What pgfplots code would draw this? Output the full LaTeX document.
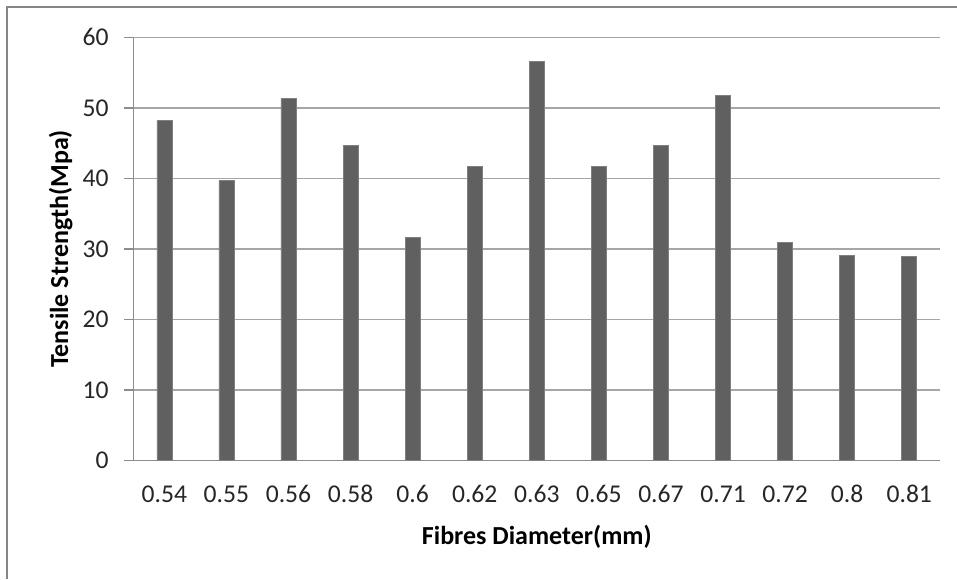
\documentclass[border=0pt]{standalone}
\usepackage{fontspec}
\setmainfont{Carlito}
\usepackage{pgfplots}
\pgfplotsset{compat=1.18}
\definecolor{barc}{HTML}{606060}
\definecolor{gridc}{HTML}{A6A6A6}
\definecolor{axc}{HTML}{8C8C8C}
\definecolor{brd}{HTML}{868686}
\begin{document}
\begin{tikzpicture}
\useasboundingbox (0,0) rectangle (478.5pt,289.5pt);
\draw[brd, line width=1pt] (3.5pt,0) -- (3.5pt,286pt) -- (478.5pt,286pt);
\begin{axis}[
  at={(66.65pt,59.15pt)}, anchor=south west,
  scale only axis, width=403.5pt, height=211.7pt,
  xmin=-0.5, xmax=12.5, ymin=0, ymax=60,
  axis x line*=bottom, axis y line*=left,
  axis line style={axc, line width=0.7pt},
  xtick=data,
  xticklabels={0.54,0.55,0.56,0.58,0.6,0.62,0.63,0.65,0.67,0.71,0.72,0.8,0.81},
  ytick={0,10,20,30,40,50,60},
  ymajorgrids, major grid style={gridc, line width=0.7pt},
  x tick style={draw=none},
  y tick style={axc, line width=0.7pt},
  tick align=outside, major tick length=4.5pt,
  /pgf/number format/assume math mode=true,
  ticklabel style={font=\fontsize{12.8}{14}\selectfont, text=black!85},
  yticklabel style={anchor=east, inner sep=0pt, xshift=-7.65pt},
  xticklabel style={anchor=base, inner sep=0pt, yshift=-16.5pt},
  xlabel={Fibres Diameter(mm)},
  ylabel={Tensile Strength(Mpa)},
  label style={font=\bfseries\fontsize{13}{15}\selectfont},
  xlabel style={at={(axis description cs:0.5,-0.199)}, anchor=base},
  ylabel style={at={(axis description cs:-0.0809,0.5)}, anchor=base},
  clip=false,
]
\addplot[ybar, bar width=7.5pt, fill=barc, draw=barc!80!white, line width=0.3pt] coordinates {
  (0,48.24) (1,39.73) (2,51.3) (3,44.64) (4,31.7) (5,41.72) (6,56.6)
  (7,41.72) (8,44.64) (9,51.72) (10,30.95) (11,29.15) (12,28.96)
};
\end{axis}
\end{tikzpicture}
\end{document}
